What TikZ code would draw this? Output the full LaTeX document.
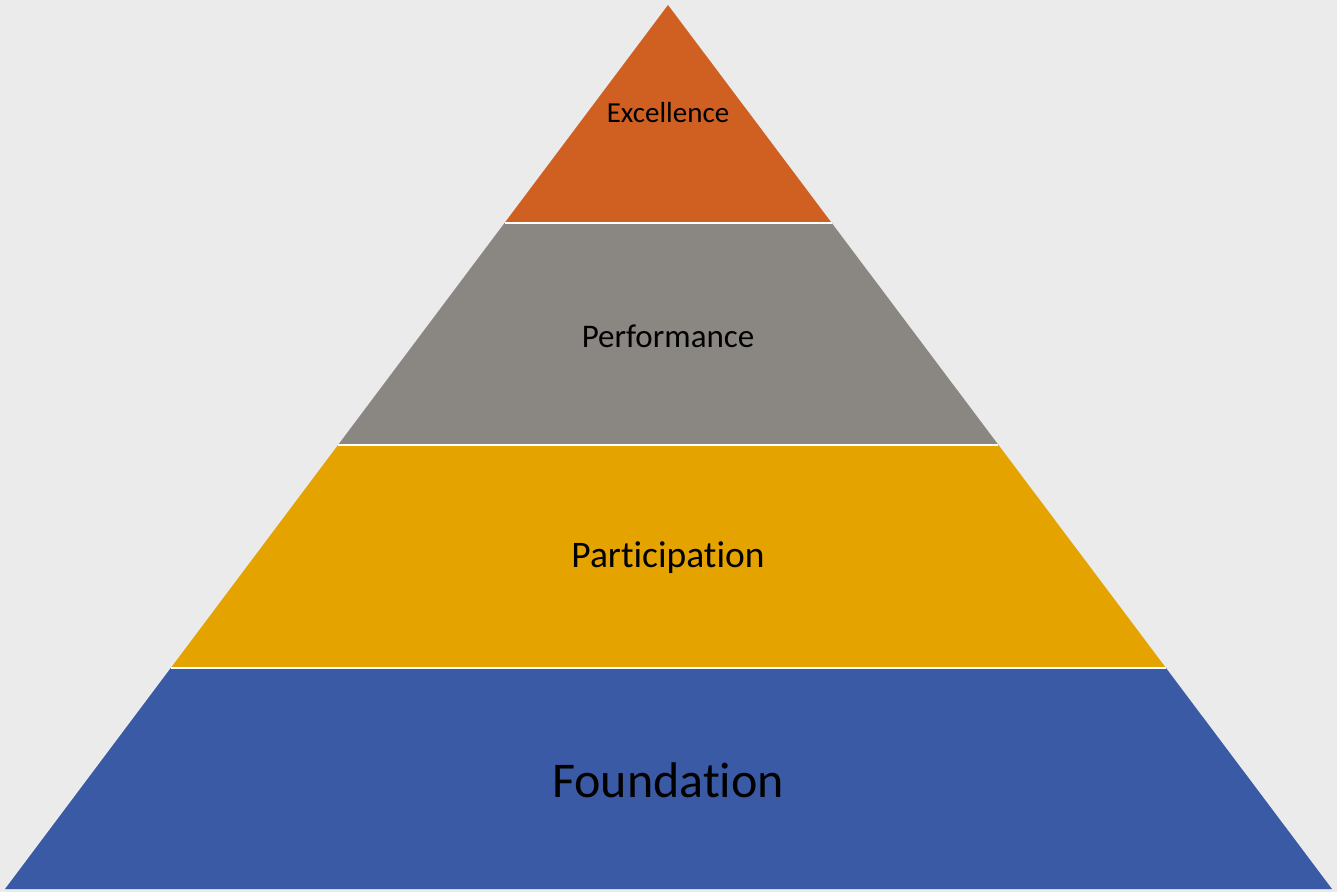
\documentclass[tikz,border=0pt]{standalone}
\usepackage{fontspec}
\setmainfont{Carlito}[Ligatures=NoCommon]
\usetikzlibrary{calc}

\definecolor{bgcol}{RGB}{235,235,235}
\definecolor{excol}{RGB}{208,95,34}
\definecolor{pecol}{RGB}{138,134,130}
\definecolor{pacol}{RGB}{229,163,0}
\definecolor{focol}{RGB}{58,90,165}

\begin{document}
\begin{tikzpicture}[
    x=1pt, y=-1pt,
    tier/.style={draw=none},
    gap/.style={draw=white, line width=2pt},
    tiername/.style={text=black, inner sep=0pt, anchor=center},
]

% --- Background ---
\fill[bgcol] (0,0) rectangle (1337,892);
\useasboundingbox (0,0) rectangle (1337,892);

% --- Pyramid corners ---
\coordinate (apex) at (668,5);
\coordinate (bl) at (5,889);
\coordinate (br) at (1332,889);

% tier boundaries
\coordinate (l1) at ($(apex)!0.2466!(bl)$);
\coordinate (r1) at ($(apex)!0.2466!(br)$);
\coordinate (l2) at ($(apex)!0.4977!(bl)$);
\coordinate (r2) at ($(apex)!0.4977!(br)$);
\coordinate (l3) at ($(apex)!0.7500!(bl)$);
\coordinate (r3) at ($(apex)!0.7500!(br)$);

% --- Tiers ---
\fill[tier, excol] (apex) -- (r1) -- (l1) -- cycle;
\fill[tier, pecol] (l1) -- (r1) -- (r2) -- (l2) -- cycle;
\fill[tier, pacol] (l2) -- (r2) -- (r3) -- (l3) -- cycle;
\fill[tier, focol] (l3) -- (r3) -- (br) -- (bl) -- cycle;

% white gaps
\draw[gap] (l1) -- (r1);
\draw[gap] (l2) -- (r2);
\draw[gap] (l3) -- (r3);

% --- Labels ---
\node[tiername, font=\fontsize{29}{34}\selectfont] (excellence) at (668,113) {Excellence};
\node[tiername, font=\fontsize{33}{40}\selectfont] (performance) at (668,336) {Performance};
\node[tiername, font=\fontsize{37.5}{45}\selectfont] (participation) at (668,558) {Participation};
\node[tiername, font=\fontsize{50}{60}\selectfont] (foundation) at (668,780) {Foundation};

\end{tikzpicture}
\end{document}
